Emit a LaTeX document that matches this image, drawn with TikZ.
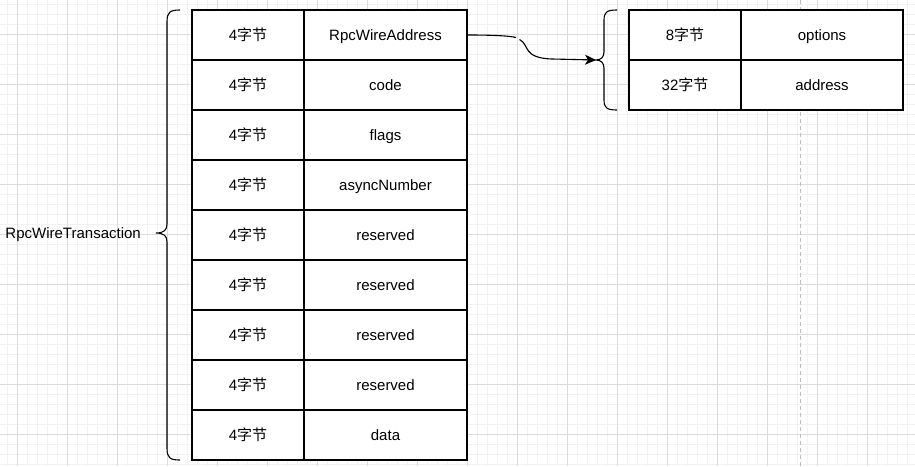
\documentclass[tikz,border=0pt]{standalone}
\usepackage{fontspec}
\setmainfont{Liberation Sans}
\newfontfamily\cjk{Noto Sans CJK SC}
\usetikzlibrary{arrows.meta}
\definecolor{minorgrid}{HTML}{F2F2F2}
\definecolor{majorgrid}{HTML}{DCDCDC}
\definecolor{pageline}{HTML}{BDBDBD}
\tikzset{
  cell/.style={draw=black, line width=1.1pt, fill=white, inner sep=0pt,
    minimum height=50pt, text height=13pt, text depth=2pt,
    font=\fontsize{15}{18}\selectfont},
  narrow/.style={cell, minimum width=112pt},
  wide/.style={cell, minimum width=163pt},
  rwide/.style={cell, minimum width=162pt},
  brace/.style={draw=black, line width=1.1pt},
  conn/.style={draw=black, line width=1.1pt},
  lbl/.style={font=\fontsize{15}{18}\selectfont, inner sep=0pt, text height=13pt, text depth=2pt}
}
\newcommand{\zj}[1]{#1{\cjk 字节}}
\begin{document}
\begin{tikzpicture}[x=1pt,y=-1pt]
\useasboundingbox (0,0) rectangle (915,466);
\fill[white] (0,0) rectangle (915,466);
% grid
\foreach \x in {7,17,...,915} \draw[minorgrid, line width=0.8pt] (\x,0) -- (\x,466);
\foreach \y in {4,14,...,466} \draw[minorgrid, line width=0.8pt] (0,\y) -- (915,\y);
\foreach \x in {17,67,...,915} \draw[majorgrid, line width=0.8pt] (\x,0) -- (\x,466);
\foreach \y in {34,84,...,466} \draw[majorgrid, line width=0.8pt] (0,\y) -- (915,\y);
% page break line
\draw[pageline, line width=1pt, dash pattern=on 4pt off 3pt] (800.5,0) -- (800.5,466);
% left table
\foreach \i/\t in {0/RpcWireAddress,1/code,2/flags,3/asyncNumber,4/reserved,5/reserved,6/reserved,7/reserved,8/data}{
  \node[narrow] (l\i) at (248,{35+50*\i}) {\zj{4}};
  \node[wide] (r\i) at (385.5,{35+50*\i}) {\t};
}
% right table
\node[narrow] (a0) at (685,35) {\zj{8}};
\node[rwide] (b0) at (822,35) {options};
\node[narrow] (a1) at (685,85) {\zj{32}};
\node[rwide] (b1) at (822,85) {address};
% left brace
\coordinate (ltip) at (156,233);
\draw[brace] (180,10) .. controls (170,10) and (167,12) .. (167,22) -- (167,224)
  .. controls (167,230) and (164,233) .. (ltip)
  .. controls (164,233) and (167,236) .. (167,242) -- (167,448)
  .. controls (167,458) and (170,460) .. (180,460);
\node[lbl, anchor=east] (title) at (141,233) {RpcWireTransaction};
% right brace
\coordinate (rtip) at (596,60);
\draw[brace] (617,10) .. controls (607,10) and (604,12) .. (604,20) -- (604,52)
  .. controls (604,57) and (601,60) .. (rtip)
  .. controls (601,60) and (604,63) .. (604,68) -- (604,100)
  .. controls (604,108) and (607,110) .. (617,110);
% connector
\coordinate (gapa) at (516,37.5);
\coordinate (gapb) at (519.5,39.5);
\draw[conn] (r0.east) .. controls (495,35) and (510,36) .. (gapa);
\draw[conn, -{Stealth[length=11pt,width=10pt,inset=3pt]}] (gapb) .. controls (530,45) and (522,58) .. (552,59) -- (rtip);
\end{tikzpicture}
\end{document}
